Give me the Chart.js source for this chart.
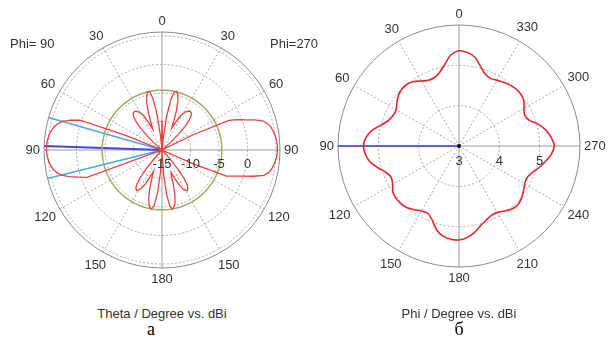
<!DOCTYPE html>
<html>
<head>
<meta charset="utf-8">
<script src="https://cdn.jsdelivr.net/npm/chart.js@4.4.1/dist/chart.umd.min.js"></script>
<style>
  body { margin: 0; background: #fff; }
  .page { position: relative; width: 608px; height: 341px; overflow: hidden; font-family: 'Liberation Sans', Arial, sans-serif; color: #333; }
  canvas { position: absolute; top: 0; }
  #thetaChart { left: 0; }
  #phiChart { left: 310px; }
  .txt { position: absolute; font-size: 13px; line-height: 15px; white-space: nowrap; }
  .title { position: absolute; top: 306px; width: 240px; text-align: center; font-size: 13px; line-height: 15px; }
  .cap { position: absolute; top: 320px; width: 40px; text-align: center; font: 18px 'Liberation Serif', serif; line-height: 18px; color: #000; }
</style>
</head>
<body>
<div class="page">
  <canvas id="thetaChart" width="324" height="300"></canvas>
  <canvas id="phiChart" width="298" height="300"></canvas>
  <div class="txt" style="left:10px; top:36px">Phi= 90</div>
  <div class="txt" style="left:270px; top:36px">Phi=270</div>
  <div class="title" style="left:42px">Theta / Degree vs. dBi</div>
  <div class="title" style="left:339px">Phi / Degree vs. dBi</div>
  <div class="cap" style="left:131px">а</div>
  <div class="cap" style="left:439px">б</div>
</div>
<script>
// --- theta cut (a), theta = 0..180 step 2, gain in dBi ---
const thetaStep = 2;
const phi90Gain = [
  -9.8, -13.5, -15, -12.5, -8.5, -5.8, -4.5, -4.5, -5.2, -6.4,
  -8.0, -9.8, -11.0, -9.6, -8.3, -7.5, -7.1, -6.8, -6.7, -6.8,
  -7.2, -8.0, -9.3, -11.0, -13.0, -15, -15, -15, -15, -15,
  -15, -15, -15, -15, -8.0, 0.3, 1.9, 3.2, 3.9, 4.4,
  4.7, 4.95, 5.1, 5.22, 5.3, 5.3, 5.22, 5.1, 4.95, 4.7,
  4.4, 3.9, 3.2, 1.9, 0.4, -1.0, -15, -15, -15, -15,
  -15, -15, -15, -15, -15, -15, -15, -15, -15, -13,
  -10.5, -8.6, -7.4, -6.8, -6.6, -6.9, -7.5, -8.5, -9.8, -11.0,
  -10.0, -8.2, -6.6, -5.4, -4.7, -4.5, -5.2, -7.4, -11.0, -14.0,
  -15
];
const phi270Gain = [
  -9.8, -13.5, -15, -12.8, -8.8, -5.9, -4.6, -4.4, -4.9, -6.0,
  -7.5, -9.4, -10.8, -9.8, -8.4, -7.6, -7.1, -6.8, -6.6, -6.7,
  -7.0, -7.8, -9.0, -10.8, -12.8, -15, -15, -15, -15, -15,
  -15, -15, -9.0, -2.2, -0.8, 0.5, 2.1, 3.45, 4.1, 4.5,
  4.75, 4.95, 5.1, 5.2, 5.25, 5.25, 5.2, 5.1, 4.95, 4.75,
  4.5, 4.1, 3.4, 1.7, -0.15, -1.6, -2.8, -9.0, -15, -15,
  -15, -15, -15, -15, -15, -15, -15, -15, -15, -13.2,
  -10.8, -8.8, -7.5, -6.9, -6.6, -6.8, -7.3, -8.3, -9.6, -10.8,
  -10.2, -8.5, -6.8, -5.5, -4.8, -4.5, -5.0, -7.0, -10.5, -14.0,
  -15
];
const sideLobeLevel = -4.5;
const mainLobeTheta = 88;
const beamEdgeTheta = [74, 104];
const thetaRings = [-15, -10, -5, 0, 5];
const thetaMax = 5.7;
const thetaTickLabels = [-15, -10, -5, 0];

// --- phi cut (б), phi = 0..355 step 5, gain in dBi ---
const phiStep = 5;
const phiGain = [
  5.36, 5.27, 5.05, 4.88, 4.8, 4.8, 4.86, 4.95, 5.0, 5.0,
  4.96, 4.88, 4.8, 4.8, 4.86, 5.0, 5.2, 5.32, 5.37, 5.33,
  5.24, 5.08, 4.92, 4.85, 4.9, 5.0, 5.03, 5.03, 5.0, 4.93,
  4.86, 4.84, 4.95, 5.15, 5.27, 5.32, 5.33, 5.28, 5.18, 5.05,
  4.96, 4.9, 4.9, 4.97, 5.04, 5.06, 5.02, 4.95, 4.88, 4.86,
  4.93, 5.06, 5.18, 5.3, 5.36, 5.3, 5.2, 5.05, 4.86, 4.8,
  4.86, 4.96, 5.0, 5.0, 4.97, 4.93, 4.88, 4.85, 4.9, 5.05,
  5.24, 5.33
];
const mainLobePhi = 90;
const phiRings = [3, 4, 5];
const phiMax = 6;
const phiTickLabels = [3, 4, 5];

// radial marker from the outer circle to the centre
function rayData(n, indices, max, min) {
  const d = new Array(n).fill(null);
  indices.forEach(i => { d[i] = max; d[(i + 1) % n] = min; });
  return d;
}

function polarScale(min, max, rings, step) {
  return {
    min: min,
    max: max,
    afterBuildTicks: s => { s.ticks = rings.concat(max).map(v => ({value: v})); },
    ticks: {display: false},
    pointLabels: {display: false},
    grid: {
      circular: true,
      color: c => c.tick.value === max ? '#8a8a8a' : '#a8a8a8',
      lineWidth: 1
    },
    border: {dash: c => c.tick.value === max ? [] : [2, 2]},
    angleLines: {
      color: c => (c.index * step) % 90 === 0 ? '#9a9a9a' : '#a8a8a8',
      lineWidth: c => (c.index * step) % 30 === 0 ? 1 : 0,
      borderDash: c => (c.index * step) % 90 === 0 ? [] : [2, 2]
    }
  };
}

const polarText = {
  id: 'polarText',
  afterDraw(chart, args, opts) {
    const s = chart.scales.r;
    const ctx = chart.ctx;
    ctx.save();
    ctx.font = '13px "Liberation Sans", Arial, sans-serif';
    ctx.fillStyle = '#333';
    ctx.textAlign = 'center';
    ctx.textBaseline = 'middle';
    chart.data.labels.forEach((lbl, i) => {
      if (!lbl) return;
      const ang = s.getPointPosition(i, 1).angle;
      const w = ctx.measureText(lbl).width;
      const d = s.drawingArea + 4 + w / 2 * Math.abs(Math.cos(ang)) + 7 * Math.abs(Math.sin(ang));
      const p = s.getPointPosition(i, d);
      ctx.fillText(lbl, p.x, p.y);
    });
    opts.ticks.forEach(v => {
      ctx.fillText(String(v), s.xCenter + s.getDistanceFromCenterForValue(v), s.yCenter + opts.dy);
    });
    if (opts.dot) {
      ctx.beginPath();
      ctx.arc(s.xCenter, s.yCenter, 2, 0, Math.PI * 2);
      ctx.fillStyle = '#000';
      ctx.fill();
    }
    ctx.restore();
  }
};

const lineDefaults = {fill: false, pointRadius: 0, pointHoverRadius: 0, tension: 0};

function baseOptions(scale, padding, textOpts) {
  return {
    responsive: false,
    animation: false,
    events: [],
    layout: {padding: padding},
    scales: {r: scale},
    plugins: {legend: {display: false}, tooltip: {enabled: false}, polarText: textOpts}
  };
}

// theta chart: spokes clockwise from top, right half Phi=270, left half Phi=90
const nTheta = 360 / thetaStep;
const thetaAngles = Array.from({length: nTheta}, (_, i) => i * thetaStep);
const thetaData = thetaAngles.map(a => a <= 180 ? phi270Gain[a / thetaStep] : phi90Gain[(360 - a) / thetaStep]);
const thetaLabels = thetaAngles.map(a => a % 30 === 0 ? String(a <= 180 ? a : 360 - a) : '');
const leftIdx = t => (360 - t) / thetaStep;

new Chart(document.getElementById('thetaChart'), {
  type: 'radar',
  data: {
    labels: thetaLabels,
    datasets: [
      {...lineDefaults, data: thetaData, borderColor: '#e8413f', borderWidth: 1.3},
      {...lineDefaults, data: thetaData.map(() => sideLobeLevel), borderColor: '#9cae5e', borderWidth: 1.5},
      {...lineDefaults, data: rayData(nTheta, [leftIdx(mainLobeTheta)], thetaMax, thetaRings[0]), borderColor: '#4646d6', borderWidth: 2},
      {...lineDefaults, data: rayData(nTheta, beamEdgeTheta.map(leftIdx), thetaMax, thetaRings[0]), borderColor: '#4aa8ee', borderWidth: 1.5}
    ]
  },
  options: baseOptions(polarScale(thetaRings[0], thetaMax, thetaRings, thetaStep),
    {top: 32, bottom: 32, left: 0, right: 0},
    {ticks: thetaTickLabels, dy: 14, dot: false}),
  plugins: [polarText]
});

// phi chart: spokes clockwise from top, phi grows counter-clockwise
const nPhi = 360 / phiStep;
const phiAngles = Array.from({length: nPhi}, (_, i) => i * phiStep);
const phiOf = a => (360 - a) % 360;
const phiData = phiAngles.map(a => phiGain[phiOf(a) / phiStep]);
const phiLabels = phiAngles.map(a => phiOf(a) % 30 === 0 ? String(phiOf(a)) : '');

new Chart(document.getElementById('phiChart'), {
  type: 'radar',
  data: {
    labels: phiLabels,
    datasets: [
      {...lineDefaults, data: phiData, borderColor: '#e8252b', borderWidth: 1.6, tension: 0.3},
      {...lineDefaults, data: rayData(nPhi, [phiOf(mainLobePhi) / phiStep], phiMax, phiRings[0]), borderColor: '#5c5cf0', borderWidth: 2}
    ]
  },
  options: baseOptions(polarScale(phiRings[0], phiMax, phiRings, phiStep),
    {top: 25, bottom: 33, left: 0, right: 0},
    {ticks: phiTickLabels, dy: 15, dot: true}),
  plugins: [polarText]
});
</script>
</body>
</html>
